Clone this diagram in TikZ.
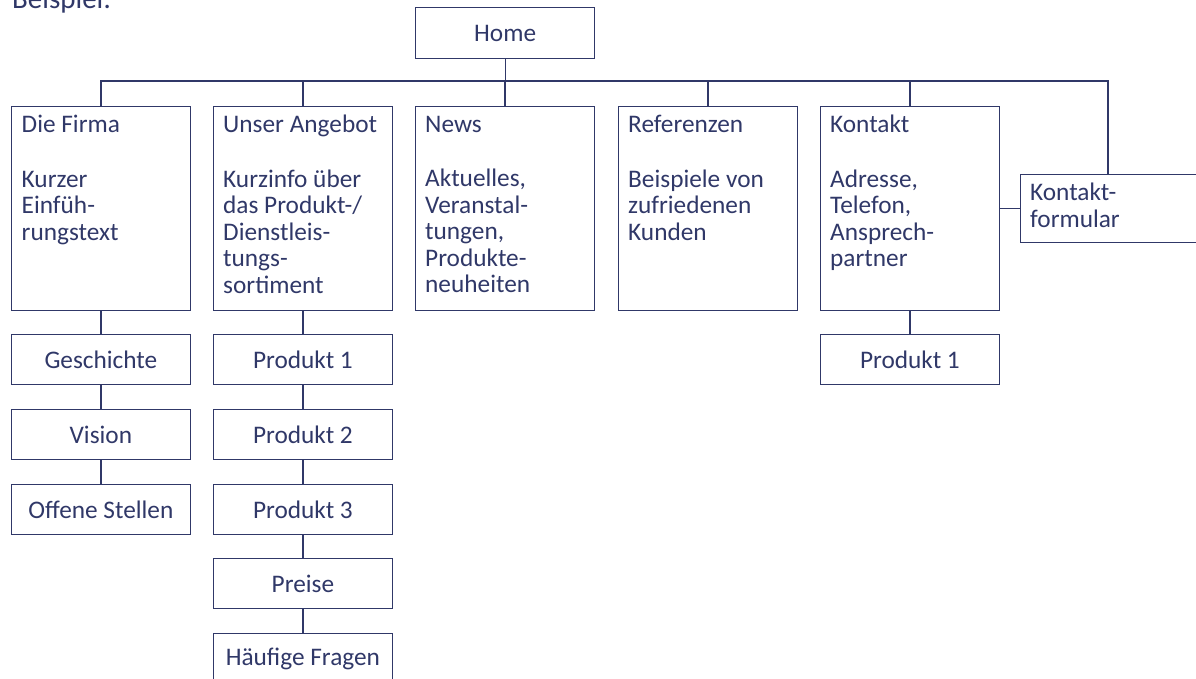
\documentclass[tikz,border=0pt]{standalone}
\usepackage{fontspec}
\setmainfont{Carlito}
\definecolor{navy}{RGB}{48,56,104}
\begin{document}
\begin{tikzpicture}[x=1pt,y=-1pt,
  every node/.style={text=navy},
  conn/.style={draw=navy, line width=1.3pt},
  topbox/.style={draw=navy, line width=1.3pt, anchor=north west, inner sep=0pt,
                 minimum width=178.5pt, minimum height=204pt},
  subbox/.style={draw=navy, line width=1.3pt, anchor=north west, inner sep=0pt,
                 minimum width=178.5pt, minimum height=50pt,
                 font=\fontsize{25.3}{26.5}\selectfont},
  boxtext/.style={anchor=north west, inner sep=0pt, align=left,
                  font=\fontsize{25.3}{26.5}\selectfont}]
\useasboundingbox (0,0) rectangle (1196,679);
\clip (0,0) rectangle (1196,679);
\newcommand\fl{\rule{0pt}{17pt}}
% heading (cut off at top)
\node[anchor=base west, inner sep=0pt, font=\fontsize{29}{30}\selectfont] (beispiel) at (12,9) {Beispiel:};
% home
\node[subbox, minimum width=179pt, minimum height=51pt] (home) at (415,7) {Home};
% top level boxes
\node[topbox] (firma)    at (11,106)  {};
\node[topbox] (angebot)  at (213,106) {};
\node[topbox] (news)     at (415,106) {};
\node[topbox] (referenz) at (618,106) {};
\node[topbox] (kontakt)  at (820,106) {};
\node[draw=navy, line width=1.3pt, anchor=north west, inner sep=0pt,
      minimum width=182pt, minimum height=68pt] (formular) at (1020,174) {};
% texts of top boxes
\node[boxtext] (firmaT) at ([shift={(10.5,9)}]firma.north west)
  {\fl Die Firma\\[28pt]Kurzer\\Einfüh-\\rungstext};
\node[boxtext] (angebotT) at ([shift={(10,9)}]angebot.north west)
  {\fl Unser Angebot\\[28pt]Kurzinfo über\\das Produkt-/\\Dienstleis-\\tungs-\\sortiment};
\node[boxtext] (newsT) at ([shift={(10,9)}]news.north west)
  {\fl News\\[28pt]Aktuelles,\\Veranstal-\\tungen,\\Produkte-\\neuheiten};
\node[boxtext] (referenzT) at ([shift={(10,9)}]referenz.north west)
  {\fl Referenzen\\[28pt]Beispiele von\\zufriedenen\\Kunden};
\node[boxtext] (kontaktT) at ([shift={(10,9)}]kontakt.north west)
  {\fl Kontakt\\[28pt]Adresse,\\Telefon,\\Ansprech-\\partner};
\node[boxtext] (formularT) at ([shift={(10,9)}]formular.north west)
  {\fl Kontakt-\\formular};
% sub boxes
\node[subbox] (gesch)   at (11,334)  {Geschichte};
\node[subbox] (vision)  at (11,409)  {Vision};
\node[subbox] (offen)   at (11,484)  {Offene Stellen};
\node[subbox] (prod1)   at (213,334) {Produkt 1};
\node[subbox] (prod2)   at (213,409) {Produkt 2};
\node[subbox] (prod3)   at (213,484) {Produkt 3};
\node[subbox] (preise)  at (213,558) {Preise};
\node[subbox] (fragen)  at (213,633) {Häufige Fragen};
\node[subbox] (kprod1)  at (820,334) {Produkt 1};
% connectors
\coordinate (busR) at (1108,81);
\draw[conn] (home.south) -- (home.south |- busR);
\draw[conn] (firma.north) |- (busR) -- (busR |- formular.north);
\draw[conn] (angebot.north) -- (angebot.north |- busR);
\draw[conn] (news.north) -- (news.north |- busR);
\draw[conn] (referenz.north) -- (referenz.north |- busR);
\draw[conn] (kontakt.north) -- (kontakt.north |- busR);
\draw[conn] (kontakt.east) -- (formular.west -| kontakt.east) -- (formular.west);
\draw[conn] (firma.south) -- (gesch.north);
\draw[conn] (gesch.south) -- (vision.north);
\draw[conn] (vision.south) -- (offen.north);
\draw[conn] (angebot.south) -- (prod1.north);
\draw[conn] (prod1.south) -- (prod2.north);
\draw[conn] (prod2.south) -- (prod3.north);
\draw[conn] (prod3.south) -- (preise.north);
\draw[conn] (preise.south) -- (fragen.north);
\draw[conn] (kontakt.south) -- (kprod1.north);
\end{tikzpicture}
\end{document}
